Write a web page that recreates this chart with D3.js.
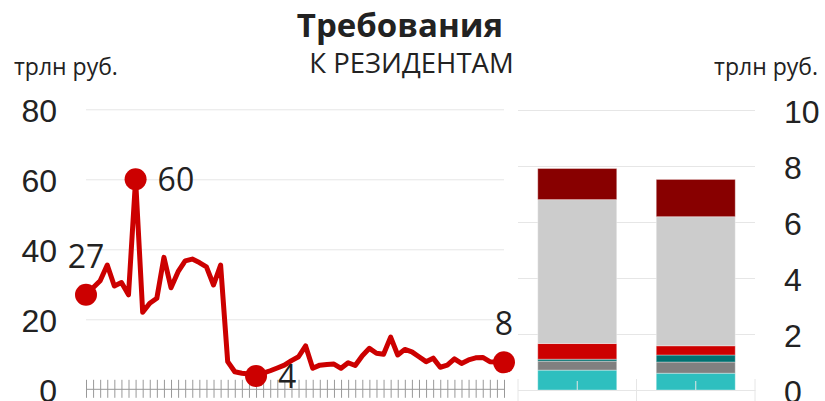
<!DOCTYPE html>
<html>
<head>
<meta charset="utf-8">
<script src="https://cdn.jsdelivr.net/npm/d3@7"></script>
<style>
	body { margin: 0; background: #fff; }
	svg { display: block; font-family: "Open Sans", sans-serif; }
	.tick-label { font-size: 32px; fill: #222; }
</style>
</head>
<body>
<div id="svg"></div>
<script>
// Monthly claims on residents, trillion rubles (left chart)
const claims = [27, 29, 31, 35.5, 29.5, 30.5, 27, 60, 22, 24.6, 26, 37.7, 29, 33.6, 36.7, 37.2,
	36.2, 35, 29.8, 35.5, 7.9, 5, 4.6, 4.4, 3.8, 4.6, 5.3, 6.1, 6.9, 8.2, 9.3, 12.4, 6, 6.9,
	7.1, 7.2, 6, 7.6, 6.8, 9.6, 11.7, 10.3, 10, 14.9, 9.8, 11.4, 10.7, 9.3, 7.9, 8.9, 6.3, 6.9,
	8.7, 7.4, 8.4, 9, 9.1, 7.9, 7.8, 7.7];
const months = claims.map((d, i) => i);

// Points that get a value label
const labelIdx = [0, 7, 24, 59],
			labelText = ["27", "60", "4", "8"],
			labelSide = ["top", "right", "right", "top"];

const leftTicks = [0, 20, 40, 60, 80];
const rightTicks = [0, 2, 4, 6, 8, 10];

// Structure (right chart), stacked from bottom to top
const bars = ["bar1", "bar2"];
const segKeys = ["s1", "s2", "s3", "s4", "s5", "s6"];
const segColors = ["#2ebfbf", "#808080", "#007070", "#cc0000", "#cccccc", "#880000"];
const s1 = [0.71, 0.60],
			s2 = [0.32, 0.40],
			s3 = [0.07, 0.25],
			s4 = [0.56, 0.33],
			s5 = [5.14, 4.61],
			s6 = [1.11, 1.33];

(function() {
	const width = 825, height = 401;

	const svg = d3.select("#svg").append("svg")
		.attr("width", width)
		.attr("height", height);

	// Titles
	svg.append("text")
		.attr("x", 400).attr("y", 37)
		.attr("text-anchor", "middle")
		.style("font-size", "33px").style("font-weight", "bold").style("fill", "#222")
		.text("Требования");
	svg.append("text")
		.attr("x", 411.5).attr("y", 72.5)
		.attr("text-anchor", "middle")
		.style("font-size", "27.5px").style("fill", "#222")
		.text("К РЕЗИДЕНТАМ");
	svg.append("text")
		.attr("x", 14).attr("y", 75)
		.style("font-size", "23px").style("fill", "#222")
		.text("трлн руб.");
	svg.append("text")
		.attr("x", 818).attr("y", 75)
		.attr("text-anchor", "end")
		.style("font-size", "23px").style("fill", "#222")
		.text("трлн руб.");

	/////////////////////////////////////////////////////////////////////////////
	// Left: line chart
	const x = d3.scaleLinear().domain([0, months.length - 1]).range([86, 504]);
	const y = d3.scaleLinear().domain([0, 80]).range([389.3, 109.3]);

	const yAxis = svg.append("g")
		.attr("transform", "translate(86,0)")
		.call(d3.axisLeft(y).tickValues(leftTicks).tickSize(-418).tickPadding(29));
	yAxis.select(".domain").remove();
	yAxis.selectAll(".tick line").attr("stroke", "#e6e6e6").filter(d => d === 0).remove();
	yAxis.selectAll(".tick text").attr("class", "tick-label").attr("dy", "0.38em");

	const xAxis = svg.append("g")
		.attr("transform", `translate(0,${y(0)})`)
		.call(d3.axisBottom(x).tickValues(months).tickSize(8.5).tickFormat(""));
	xAxis.select(".domain").attr("stroke", "#999").attr("d", `M86,0H504`);
	xAxis.selectAll(".tick line").attr("y1", -9.5).attr("stroke", "#999");

	svg.append("path")
		.datum(claims)
		.attr("fill", "none")
		.attr("stroke", "#cc0000")
		.attr("stroke-width", 5)
		.attr("stroke-linejoin", "round")
		.attr("d", d3.line().x((d, i) => x(i)).y(d => y(d)));

	svg.append("g")
		.selectAll("circle")
		.data(labelIdx)
		.join("circle")
			.attr("cx", d => x(d))
			.attr("cy", d => y(claims[d]))
			.attr("r", 11)
			.attr("fill", "#cc0000");

	svg.append("g")
		.selectAll("text")
		.data(labelIdx)
		.join("text")
			.attr("class", "tick-label")
			.attr("x", (d, i) => labelSide[i] === "top" ? x(d) : x(d) + 22)
			.attr("y", (d, i) => labelSide[i] === "top" ? y(claims[d]) - 27 : y(claims[d]))
			.attr("dy", (d, i) => labelSide[i] === "top" ? 0 : "0.36em")
			.attr("text-anchor", (d, i) => labelSide[i] === "top" ? "middle" : "start")
			.text((d, i) => labelText[i]);

	/////////////////////////////////////////////////////////////////////////////
	// Right: stacked bars
	const xb = d3.scaleBand().domain(bars).range([518, 755]).paddingInner(1 / 3).paddingOuter(1 / 6);
	const yb = d3.scaleLinear().domain([0, 10]).range([390, 110]);

	const ybAxis = svg.append("g")
		.attr("transform", "translate(755,0)")
		.call(d3.axisRight(yb).tickValues(rightTicks).tickSize(-237).tickPadding(29));
	ybAxis.select(".domain").remove();
	ybAxis.selectAll(".tick line").attr("stroke", "#e6e6e6");
	ybAxis.selectAll(".tick text").attr("class", "tick-label").attr("dy", "0.38em");

	const rows = bars.map((b, i) => ({bar: b, s1: s1[i], s2: s2[i], s3: s3[i], s4: s4[i], s5: s5[i], s6: s6[i]}));
	const stacked = d3.stack().keys(segKeys)(rows);

	svg.append("g")
		.selectAll("g")
		.data(stacked)
		.join("g")
			.attr("fill", (d, i) => segColors[i])
		.selectAll("rect")
		.data(d => d)
		.join("rect")
			.attr("x", d => xb(d.data.bar))
			.attr("width", xb.bandwidth())
			.attr("y", d => yb(d[1]))
			.attr("height", d => yb(d[0]) - yb(d[1]))
			.attr("stroke", "#fff")
			.attr("stroke-opacity", 0.35)
			.attr("stroke-width", 1);

	// Category axis
	const bAxis = svg.append("g")
		.attr("transform", `translate(0,${yb(0)})`)
		.call(d3.axisBottom(xb).tickSizeInner(-9).tickSizeOuter(0).tickFormat(""));
	bAxis.select(".domain").attr("stroke", "#e6e6e6");
	bAxis.selectAll(".tick line").attr("stroke", "#e6e6e6");

	const step = xb.step();
	svg.append("g")
		.selectAll("line")
		.data([xb(bars[0]) - step / 6, ...bars.map(b => xb(b) + xb.bandwidth() + step / 6)])
		.join("line")
			.attr("x1", d => d).attr("x2", d => d)
			.attr("y1", yb(0) - 11).attr("y2", height)
			.attr("stroke", "#e6e6e6");
})();
</script>
</body>
</html>
